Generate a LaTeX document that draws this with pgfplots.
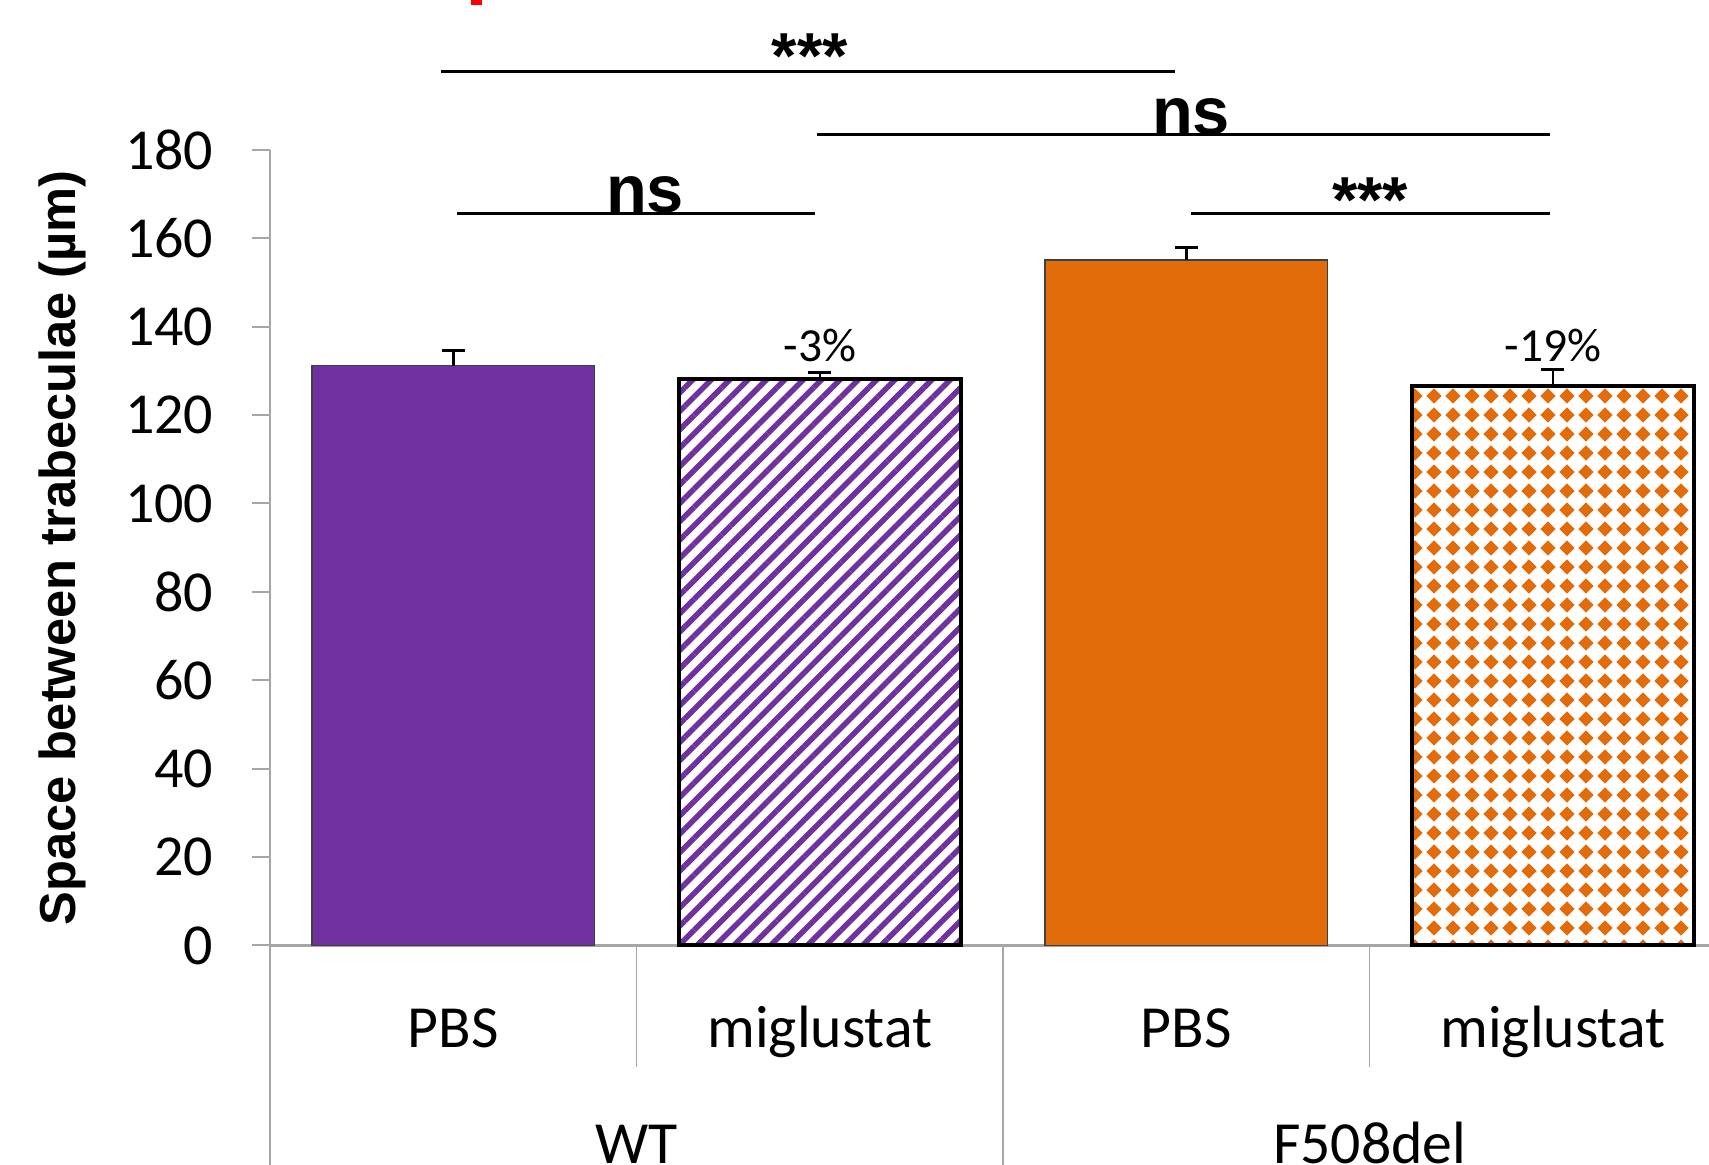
\documentclass[border=0pt]{standalone}
\usepackage{fontspec}
\setmainfont{Carlito}
\newfontfamily\arialfont{Liberation Sans}
\usepackage{pgfplots}
\pgfplotsset{compat=1.18}
\usetikzlibrary{patterns.meta}

\definecolor{wtpurple}{HTML}{7030A0}
\definecolor{cforange}{HTML}{E36C0A}
\definecolor{axgray}{HTML}{A6A6A6}

% orange diamonds on white, as in the F508del + miglustat bar
\pgfdeclarepattern{
  name=Diamonds,
  type=uncolored,
  bottom left={\pgfpoint{0mm}{0mm}},
  top right={\pgfpoint{1.9mm}{1.9mm}},
  tile size={\pgfpoint{1.9mm}{1.9mm}},
  code={
    \pgfpathmoveto{\pgfpoint{0.95mm}{0.15mm}}
    \pgfpathlineto{\pgfpoint{1.75mm}{0.95mm}}
    \pgfpathlineto{\pgfpoint{0.95mm}{1.75mm}}
    \pgfpathlineto{\pgfpoint{0.15mm}{0.95mm}}
    \pgfpathclose
    \pgfusepath{fill}
  }
}

\begin{document}
\begin{tikzpicture}
\begin{axis}[
    x=36.65mm, y=0.442mm,
    xmin=-0.5, xmax=3.5,
    ymin=0, ymax=180,
    axis lines*=left,
    axis line style={axgray, line width=0.25mm},
    clip=false,
    tick align=outside,
    major tick length=1.8mm,
    ytick={0,20,...,180},
    ytick style={axgray, line width=0.2mm},
    yticklabel style={font=\fontsize{16.5}{20}\selectfont, inner sep=0pt, xshift=-3.8mm},
    /pgf/number format/assume math mode=true,
    xtick={0,1,2,3},
    xticklabels={PBS,miglustat,PBS,miglustat},
    xtick style={draw=none},
    xticklabel style={font=\fontsize{17}{20}\selectfont, anchor=base, inner sep=0pt, yshift=-8.4mm},
    extra x ticks={0.5,2.5},
    extra x tick labels={WT,F508del},
    extra x tick style={xtick style={draw=none}, xticklabel style={yshift=-11.6mm}},
    ylabel={\arialfont\bfseries Space between trabeculae (µm)},
    ylabel style={font=\fontsize{14.4}{16}\selectfont, at={([xshift=-20.8mm]rel axis cs:0,0.5)}, anchor=center},
]
% bars
\addplot[ybar, bar width=0.77, bar shift=0pt, fill=wtpurple, draw=black!75, line width=0.15mm]
    coordinates {(0,131.2)};
\addplot[ybar, bar width=0.77, bar shift=0pt, fill=white, draw=none]
    coordinates {(1,128.1)};
\addplot[ybar, bar width=0.77, bar shift=0pt, draw=black, line width=0.4mm,
    pattern={Lines[angle=45,distance=1.3mm,line width=0.55mm]}, pattern color=wtpurple]
    coordinates {(1,128.1)};
\addplot[ybar, bar width=0.77, bar shift=0pt, fill=cforange, draw=black!75, line width=0.15mm]
    coordinates {(2,155.1)};
\addplot[ybar, bar width=0.77, bar shift=0pt, fill=white, draw=none]
    coordinates {(3,126.5)};
\addplot[ybar, bar width=0.77, bar shift=0pt, draw=black, line width=0.4mm,
    pattern=Diamonds, pattern color=cforange]
    coordinates {(3,126.5)};

% error bars (upper only)
\addplot[draw=none, mark=none, forget plot,
    error bars/.cd, y dir=plus, y explicit,
    error bar style={draw=black, line width=0.25mm},
    error mark options={draw=black, line width=0.3mm, mark size=1.15mm, rotate=90}]
    coordinates {(0,131.2) +- (0,3.4) (1,128.1) +- (0,1.6) (2,155.1) +- (0,2.7) (3,126.5) +- (0,3.7)};

% category separators below the axis
\draw[axgray, line width=0.15mm] (axis cs:0.5,0) -- (axis cs:0.5,-27.6);
\draw[axgray, line width=0.15mm] (axis cs:2.5,0) -- (axis cs:2.5,-27.6);
\draw[axgray, line width=0.15mm] (axis cs:-0.5,0) -- (axis cs:-0.5,-52);
\draw[axgray, line width=0.15mm] (axis cs:1.5,0) -- (axis cs:1.5,-52);
\draw[axgray, line width=0.15mm] (axis cs:3.5,0) -- (axis cs:3.5,-52);

% percent changes
\node[font=\fontsize{13.5}{16}\selectfont, anchor=base] at (axis cs:1,132.2) {-3\%};
\node[font=\fontsize{13.5}{16}\selectfont, anchor=base] at (axis cs:3,132.2) {-19\%};

% significance brackets
\draw[black, line width=0.33mm] (axis cs:-0.033,197.7) -- (axis cs:1.969,197.7);
\draw[black, line width=0.33mm] (axis cs:0.992,183.5) -- (axis cs:2.992,183.5);
\draw[black, line width=0.33mm] (axis cs:0.010,165.6) -- (axis cs:0.987,165.6);
\draw[black, line width=0.33mm] (axis cs:2.013,165.6) -- (axis cs:2.992,165.6);
\node[font=\arialfont\bfseries\fontsize{18.5}{20}\selectfont, anchor=base, inner sep=0pt] at (axis cs:0.973,196.2) {***};
\node[font=\arialfont\bfseries\fontsize{19}{21}\selectfont, anchor=base, inner sep=0pt] at (axis cs:2.013,183.5) {ns};
\node[font=\arialfont\bfseries\fontsize{19}{21}\selectfont, anchor=base, inner sep=0pt] at (axis cs:0.523,165.8) {ns};
\node[font=\arialfont\bfseries\fontsize{18.5}{20}\selectfont, anchor=base, inner sep=0pt] at (axis cs:2.501,163.6) {***};

% cropped red mark at the top edge
\fill[red] (axis cs:0.048,212.8) rectangle (axis cs:0.078,214.5);

\coordinate (BL) at (axis cs:-1.2367,-49.55);
\coordinate (TR) at (axis cs:3.426,213.9);
\end{axis}
\pgfresetboundingbox
\useasboundingbox (BL) rectangle (TR);
\end{tikzpicture}
\end{document}
